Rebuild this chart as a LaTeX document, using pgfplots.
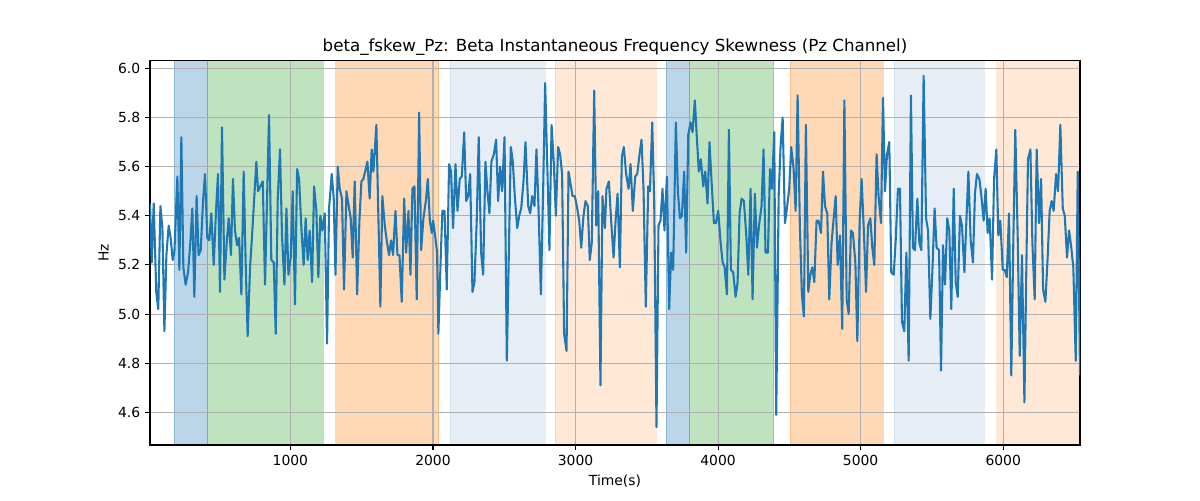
\documentclass[border=0pt]{standalone}
\usepackage{fontspec}
\setmainfont{DejaVu Sans}
\usepackage{pgfplots}
\pgfplotsset{compat=1.18}
\definecolor{tabblue}{RGB}{31,119,180}
\definecolor{tabgreen}{RGB}{44,160,44}
\definecolor{taborange}{RGB}{255,127,14}
\definecolor{steelblue}{RGB}{176,196,222}
\definecolor{gridgray}{RGB}{176,176,176}

\begin{document}
\begin{tikzpicture}
\begin{axis}[
  at={(0,0)}, anchor=south west,
  scale only axis, width=669.6pt, height=277pt,
  set layers,
  xmin=15, xmax=6539, ymin=4.467, ymax=6.033,
  xtick={1000,2000,3000,4000,5000,6000},
  ytick={4.6,4.8,5.0,5.2,5.4,5.6,5.8,6.0},
  grid=major, grid style={gridgray, line width=0.8pt},
  axis line style={line width=0.8pt},
  tick style={black, line width=0.8pt},
  tick align=outside, tick pos=left, major tick length=3.5pt,
  /pgf/number format/assume math mode=true,
  xticklabel style={/pgf/number format/1000 sep={}},
  yticklabel style={/pgf/number format/fixed, /pgf/number format/fixed zerofill, /pgf/number format/precision=1},
  ticklabel style={font=\fontsize{10}{12}\selectfont},
  label style={font=\fontsize{10}{12}\selectfont},
  every axis title shift=0pt,
  title style={font=\fontsize{12}{14}\selectfont, at={(axis description cs:0.5,1)}, anchor=base, yshift=6pt},
  title={beta\_fskew\_Pz: Beta Instantaneous Frequency Skewness (Pz Channel)},
  xlabel={Time(s)}, ylabel={Hz},
]
% shaded segments (span the full y range)
\addplot[on layer=axis background, fill=tabblue, draw=tabblue, opacity=0.3] coordinates {(183,4.467) (418,4.467) (418,6.033) (183,6.033)} -- cycle;
\addplot[on layer=axis background, fill=tabgreen, draw=tabgreen, opacity=0.3] coordinates {(418,4.467) (1232,4.467) (1232,6.033) (418,6.033)} -- cycle;
\addplot[on layer=axis background, fill=taborange, draw=taborange, opacity=0.3] coordinates {(1318,4.467) (2039,4.467) (2039,6.033) (1318,6.033)} -- cycle;
\addplot[on layer=axis background, fill=steelblue, draw=steelblue, opacity=0.3] coordinates {(2118,4.467) (2785,4.467) (2785,6.033) (2118,6.033)} -- cycle;
\addplot[on layer=axis background, fill=taborange, draw=taborange, opacity=0.17] coordinates {(2855,4.467) (3568,4.467) (3568,6.033) (2855,6.033)} -- cycle;
\addplot[on layer=axis background, fill=tabblue, draw=tabblue, opacity=0.3] coordinates {(3636,4.467) (3797,4.467) (3797,6.033) (3636,6.033)} -- cycle;
\addplot[on layer=axis background, fill=tabgreen, draw=tabgreen, opacity=0.3] coordinates {(3797,4.467) (4389,4.467) (4389,6.033) (3797,6.033)} -- cycle;
\addplot[on layer=axis background, fill=taborange, draw=taborange, opacity=0.3] coordinates {(4506,4.467) (5156,4.467) (5156,6.033) (4506,6.033)} -- cycle;
\addplot[on layer=axis background, fill=steelblue, draw=steelblue, opacity=0.3] coordinates {(5234,4.467) (5866,4.467) (5866,6.033) (5234,6.033)} -- cycle;
\addplot[on layer=axis background, fill=taborange, draw=none, opacity=0.17] coordinates {(5950,4.467) (6539,4.467) (6539,6.033) (5950,6.033)} -- cycle;

% beta skewness, Pz
\addplot[tabblue, line width=1.5pt, line join=round] coordinates {
(15,5.45) (27,5.21) (41,5.45) (59,5.09) (73,5.02) (88,5.44) (102,5.35) (116,4.93) (130,5.24) (146,5.36)
(160,5.31) (174,5.22) (186,5.25) (207,5.56) (221,5.18) (235,5.72) (249,5.19) (265,5.12) (282,5.17) (298,5.29)
(312,5.43) (326,5.07) (342,5.48) (356,5.24) (371,5.26) (387,5.46) (401,5.57) (417,5.31) (431,5.30) (445,5.41)
(462,5.20) (478,5.42) (492,5.57) (506,5.09) (520,5.76) (537,5.14) (553,5.29) (567,5.39) (583,5.24) (597,5.55)
(611,5.34) (626,5.28) (640,5.31) (656,5.08) (672,5.58) (686,5.21) (700,4.91) (717,5.19) (731,5.32) (761,5.62)
(773,5.50) (789,5.52) (806,5.54) (822,5.12) (850,5.81) (866,5.22) (883,5.21) (897,4.92) (911,5.47) (927,5.67)
(941,5.32) (958,5.12) (972,5.43) (986,5.16) (1002,5.23) (1016,5.50) (1032,5.04) (1047,5.59) (1061,5.55) (1077,5.35)
(1093,5.20) (1107,5.39) (1121,5.22) (1135,5.34) (1152,5.13) (1166,5.52) (1182,5.42) (1196,5.15) (1210,5.40) (1224,5.34)
(1241,5.41) (1257,4.88) (1271,5.43) (1290,5.57) (1304,5.47) (1316,5.16) (1332,5.60) (1346,5.51) (1362,5.47) (1376,5.10)
(1393,5.50) (1409,5.44) (1423,5.39) (1437,5.23) (1451,5.54) (1468,5.08) (1484,5.38) (1498,5.54) (1512,5.55) (1540,5.62)
(1556,5.47) (1570,5.67) (1582,5.58) (1603,5.77) (1631,5.03) (1645,5.48) (1662,5.36) (1678,5.29) (1692,5.24) (1706,5.30)
(1720,5.24) (1737,5.42) (1751,5.24) (1765,5.24) (1781,5.05) (1798,5.47) (1812,5.25) (1828,5.42) (1842,5.16) (1856,5.51)
(1870,5.52) (1886,5.06) (1903,5.82) (1917,5.26) (1933,5.39) (1950,5.46) (1964,5.55) (1978,5.38) (1992,5.33) (2001,5.38)
(2015,5.32) (2029,5.25) (2038,4.92) (2055,5.24) (2066,5.42) (2081,5.42) (2097,5.10) (2113,5.61) (2127,5.58) (2141,5.35)
(2158,5.61) (2172,5.42) (2188,5.55) (2202,5.56) (2219,5.74) (2233,5.46) (2247,5.48) (2261,5.57) (2277,5.09) (2291,5.13)
(2307,5.38) (2321,5.72) (2338,5.25) (2352,5.16) (2368,5.62) (2382,5.50) (2396,5.41) (2410,5.62) (2427,5.65) (2443,5.71)
(2457,5.46) (2471,5.60) (2485,5.50) (2502,5.72) (2518,4.81) (2532,5.24) (2546,5.68) (2560,5.62) (2574,5.48) (2591,5.35)
(2605,5.40) (2619,5.43) (2635,5.54) (2649,5.70) (2668,5.44) (2682,5.41) (2696,5.48) (2712,5.44) (2726,5.67) (2740,5.44)
(2757,5.08) (2773,5.51) (2787,5.94) (2803,5.58) (2817,5.26) (2832,5.77) (2848,5.61) (2862,5.40) (2878,5.68) (2892,5.65)
(2906,5.57) (2920,4.92) (2937,4.85) (2951,5.58) (2965,5.53) (2979,5.48) (2995,5.48) (3009,5.44) (3026,5.38) (3040,5.27)
(3056,5.40) (3070,5.46) (3086,5.44) (3100,5.22) (3114,5.29) (3131,5.91) (3145,5.36) (3159,5.50) (3175,4.71) (3189,5.48)
(3206,5.35) (3217,5.51) (3234,5.54) (3250,5.38) (3267,5.23) (3281,5.38) (3295,5.49) (3311,5.19) (3325,5.64) (3339,5.68)
(3355,5.57) (3372,5.51) (3386,5.61) (3402,5.42) (3419,5.56) (3433,5.57) (3449,5.65) (3463,5.71) (3477,5.51) (3493,5.03)
(3510,5.52) (3522,5.50) (3538,5.78) (3552,5.46) (3568,4.54) (3582,5.36) (3596,5.38) (3610,5.51) (3624,5.34) (3641,5.56)
(3657,5.02) (3671,5.25) (3685,5.18) (3704,5.78) (3718,5.50) (3732,5.39) (3746,5.40) (3762,5.58) (3776,5.25) (3791,5.73)
(3807,5.78) (3821,5.74) (3837,5.87) (3851,5.72) (3865,5.58) (3879,5.63) (3896,5.52) (3910,5.58) (3926,5.45) (3940,5.70)
(3957,5.51) (3971,5.37) (3985,5.37) (4001,5.42) (4018,5.29) (4032,5.21) (4046,5.19) (4062,5.08) (4076,5.75) (4090,5.18)
(4106,5.17) (4123,5.07) (4137,5.13) (4151,5.41) (4165,5.47) (4181,5.46) (4198,5.32) (4212,5.16) (4228,5.51) (4242,5.06)
(4258,5.49) (4273,5.27) (4287,5.36) (4305,5.44) (4319,5.67) (4333,5.25) (4350,5.25) (4364,5.59) (4378,5.51) (4394,5.74)
(4408,4.59) (4425,5.48) (4439,5.69) (4453,5.80) (4469,5.37) (4483,5.43) (4499,5.51) (4513,5.68) (4530,5.59) (4544,5.42)
(4558,5.89) (4574,5.35) (4588,5.08) (4602,4.99) (4616,5.77) (4633,5.09) (4647,5.16) (4661,5.19) (4675,5.13) (4691,5.38)
(4705,5.38) (4722,5.33) (4736,5.58) (4750,5.44) (4766,5.41) (4780,5.06) (4796,5.29) (4825,5.48) (4839,5.20) (4855,5.32)
(4871,4.94) (4886,5.87) (4902,5.06) (4916,5.00) (4932,5.34) (4946,5.33) (4963,5.21) (4977,4.89) (4993,5.38) (5007,5.55)
(5024,5.32) (5038,5.09) (5052,5.36) (5068,5.39) (5082,5.27) (5096,5.20) (5112,5.65) (5126,5.48) (5143,5.37) (5157,5.88)
(5171,5.50) (5185,5.65) (5201,5.70) (5215,5.17) (5232,5.16) (5246,5.30) (5262,5.51) (5276,5.51) (5290,4.97) (5306,4.93)
(5321,5.25) (5337,4.81) (5353,5.89) (5367,5.27) (5381,5.26) (5398,5.47) (5412,5.29) (5426,5.26) (5442,5.97) (5459,5.39)
(5473,5.34) (5489,4.98) (5503,5.17) (5519,5.43) (5533,5.27) (5550,5.26) (5564,4.77) (5578,5.28) (5592,5.12) (5608,5.39)
(5622,5.34) (5636,5.02) (5653,5.51) (5667,5.13) (5681,5.07) (5697,5.40) (5711,5.36) (5728,5.17) (5742,5.38) (5756,5.58)
(5772,5.30) (5788,5.21) (5802,5.49) (5816,5.57) (5833,5.55) (5847,5.48) (5863,5.38) (5877,5.51) (5891,5.33) (5905,5.39)
(5922,5.14) (5936,5.55) (5952,5.67) (5966,5.32) (5980,5.38) (5997,5.18) (6011,5.18) (6025,5.15) (6041,5.41) (6057,4.75)
(6071,5.29) (6085,5.75) (6102,5.31) (6116,4.83) (6132,5.24) (6149,4.64) (6163,5.21) (6174,5.63) (6191,5.67) (6205,5.29)
(6221,5.06) (6235,5.67) (6252,5.37) (6266,5.55) (6280,5.10) (6296,5.05) (6312,5.23) (6326,5.42) (6340,5.46) (6354,5.42)
(6371,5.57) (6385,5.50) (6401,5.77) (6418,5.43) (6432,5.40) (6448,5.23) (6462,5.34) (6476,5.28) (6492,5.19) (6509,4.81)
(6523,5.58) (6539,4.75)
};
\end{axis}
% page = 1200x500 px at 0.72pt per px
\pgfresetboundingbox
\path[use as bounding box] (-108pt,-39.6pt) rectangle (756pt,320.4pt);
\end{tikzpicture}
\end{document}
